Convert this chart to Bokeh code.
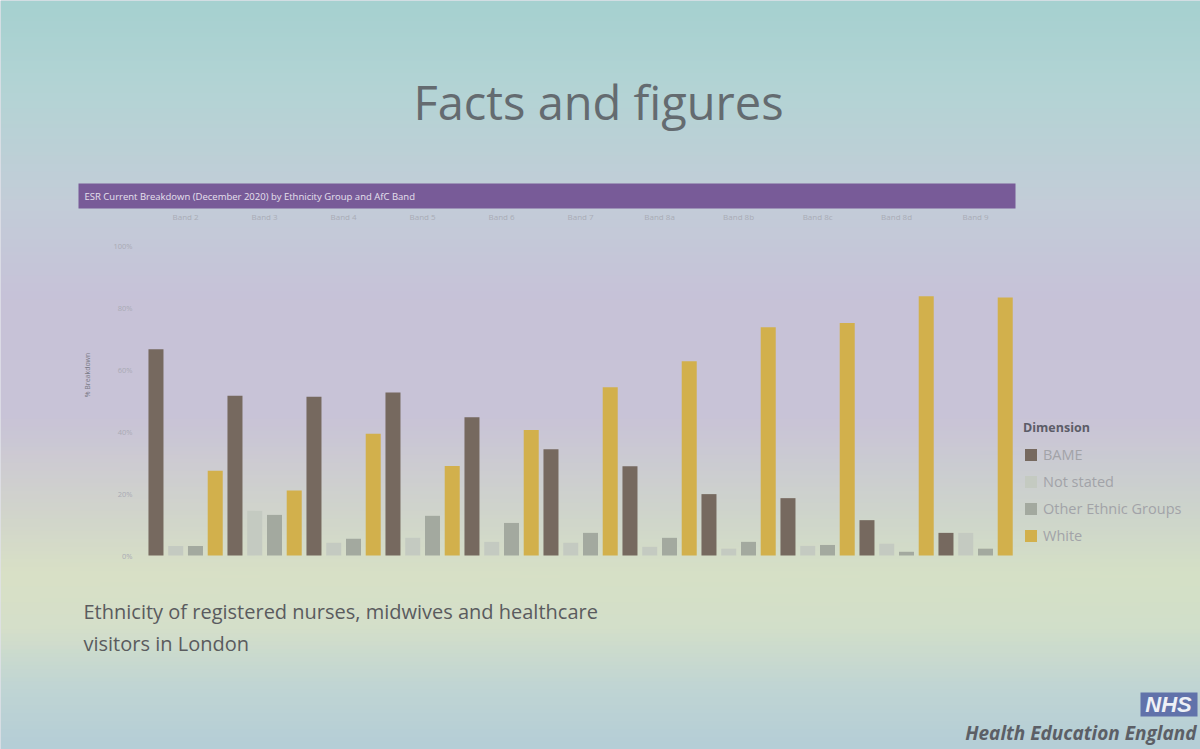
import numpy as np
from bokeh.plotting import figure
from bokeh.models import (Range1d, LinearAxis, FixedTicker, ColumnDataSource,
                          Legend, LegendItem)
from bokeh.core.properties import value
from bokeh.embed import file_html
from bokeh.resources import INLINE

# ---------------- data ----------------
bands = ["Band 2", "Band 3", "Band 4", "Band 5", "Band 6", "Band 7",
         "Band 8a", "Band 8b", "Band 8c", "Band 8d", "Band 9"]
series = ["BAME", "Not stated", "Other Ethnic Groups", "White"]
bame = [66.5, 51.5, 51.2, 52.6, 44.6, 34.3, 28.8, 19.8, 18.5, 11.4, 7.3]
not_stated = [3.1, 14.4, 4.1, 5.7, 4.4, 4.1, 2.8, 2.2, 3.1, 3.8, 7.3]
other = [3.1, 13.1, 5.4, 12.8, 10.5, 7.3, 5.7, 4.4, 3.4, 1.2, 2.2]
white = [27.3, 21.0, 39.3, 28.9, 40.5, 54.3, 62.7, 73.6, 75.0, 83.6, 83.2]
y_ticks = [0, 20, 40, 60, 80, 100]
y_tick_labels = ["0%", "20%", "40%", "60%", "80%", "100%"]
colors = ["#76695f", "#c4cac1", "#a3a99f", "#d2b04c"]

title = "Facts and figures"
header = "ESR Current Breakdown (December 2020) by Ethnicity Group and AfC Band"
caption = ["Ethnicity of registered nurses, midwives and healthcare",
           "visitors in London"]

W, H = 1200, 749


def Y(s):
    # screen-from-top -> data y
    return H - s


p = figure(width=W, height=H, x_range=Range1d(0, W), y_range=Range1d(0, H),
           output_backend="svg", toolbar_location=None, min_border=0)
p.xaxis.visible = False
p.yaxis.visible = False
p.grid.visible = False
p.outline_line_color = None
p.background_fill_color = "#c6c8d6"
p.border_fill_color = "#c6c8d6"

# ---------------- background gradient ----------------
stops_s = [0, 90, 200, 300, 420, 520, 575, 630, 690, 749]
stops_c = ["#a6d1d0", "#b4d4d5", "#c3cdd8", "#c7c2d8", "#c9c4d7",
           "#d0d6cb", "#d7e1c6", "#d3dfca", "#c0d5d4", "#b5ced7"]


def hex2rgb(h):
    return [int(h[i:i + 2], 16) for i in (1, 3, 5)]


gh, gw = 188, 60
rows = np.linspace(H, 0, gh)  # row 0 at bottom -> screen y = H
rgb = np.array([hex2rgb(c) for c in stops_c], dtype=float)
img = np.zeros((gh, gw), dtype=np.uint32)
view = img.view(dtype=np.uint8).reshape((gh, gw, 4))
xs_h = np.linspace(0, 1, gw)
for r, s in enumerate(rows):
    col = [np.interp(s, stops_s, rgb[:, k]) for k in range(3)]
    for k in range(3):
        tint = (0.5 - xs_h) * (4 if (k == 0 and 450 < s < 650) else 0)
        view[r, :, k] = np.clip(col[k] + tint, 0, 255)
    view[r, :, 3] = 255
p.image_rgba(image=[img], x=0, y=0, dw=W, dh=H)

# ---------------- slide texts ----------------
p.text(x=[598], y=[Y(101)], text=[title], text_align="center",
       text_baseline="middle", text_font=value("Open Sans"),
       text_font_size="47px", text_color="#646b70")

p.quad(left=[78], right=[1015], top=[Y(183)], bottom=[Y(208)],
       fill_color="#785b98", line_color=None)
p.text(x=[84], y=[Y(196)], text=[header], text_align="left",
       text_baseline="middle", text_font=value("Open Sans"),
       text_font_size="9.5px", text_color="#e6e0ee")

p.text(x=[83, 83], y=[Y(611), Y(643)], text=caption, text_align="left",
       text_baseline="middle", text_font=value("Open Sans"),
       text_font_size="20px", text_color="#5a5b5e")

p.quad(left=[1140], right=[1197], top=[Y(692)], bottom=[Y(716)],
       fill_color="#6172aa", line_color=None)
p.text(x=[1168], y=[Y(704)], text=["NHS"], text_align="center",
       text_baseline="middle", text_font=value("Liberation Sans"),
       text_font_style="bold italic", text_font_size="22px",
       text_color="#eef0f6")
p.text(x=[1196], y=[Y(732)], text=["Health Education England"],
       text_align="right", text_baseline="middle",
       text_font=value("Open Sans"), text_font_style="bold italic",
       text_font_size="19px", text_color="#5c5f66")

# ---------------- chart ----------------
px0, px_per = 555.0, 3.1          # screen y of 0 %, px per %
p.extra_y_ranges = {"pct": Range1d((px0 - H) / px_per, px0 / px_per)}
gx0, gstep = 145.6, 79.0           # screen x of band 0 left edge, px per band
p.extra_x_ranges = {"band": Range1d(-gx0 / gstep, (W - gx0) / gstep)}

renderers = []
for j, (name, vals) in enumerate(zip(series, [bame, not_stated, other, white])):
    src = ColumnDataSource(dict(x=[i + 0.125 + 0.25 * j for i in range(len(bands))],
                                top=vals))
    r = p.vbar(x="x", top="top", bottom=0, width=0.19, source=src,
               x_range_name="band", y_range_name="pct",
               fill_color=colors[j], line_color=None)
    renderers.append(r)

yax = LinearAxis(y_range_name="pct", fixed_location=144,
                 ticker=FixedTicker(ticks=y_ticks),
                 major_label_overrides={t: l for t, l in zip(y_ticks, y_tick_labels)},
                 axis_label="% Breakdown")
yax.axis_line_color = None
yax.major_tick_line_color = None
yax.minor_tick_line_color = None
yax.major_label_text_font = "Open Sans"
yax.major_label_text_font_size = "7.5px"
yax.major_label_text_color = "#a9aab4"
yax.major_label_standoff = 6
yax.axis_label_text_font = "Open Sans"
yax.axis_label_text_font_size = "7px"
yax.axis_label_text_font_style = "normal"
yax.axis_label_text_color = "#7a7a86"
yax.axis_label_standoff = 18
p.add_layout(yax, "left")

band_ticks = [i + 0.5 for i in range(len(bands))]
xax = LinearAxis(x_range_name="band", fixed_location=Y(229),
                 ticker=FixedTicker(ticks=band_ticks),
                 major_label_overrides={t: b for t, b in zip(band_ticks, bands)})
xax.axis_line_color = None
xax.major_tick_line_color = None
xax.minor_tick_line_color = None
xax.major_label_text_font = "Open Sans"
xax.major_label_text_font_size = "8px"
xax.major_label_text_color = "#a9abb6"
xax.major_label_standoff = 2
p.add_layout(xax, "above")

legend = Legend(items=[LegendItem(label=s, renderers=[r]) for s, r in zip(series, renderers)],
                location=(1023, Y(545)), title="Dimension",
                orientation="vertical")
legend.title_text_font = "Open Sans"
legend.title_text_font_size = "12.5px"
legend.title_text_font_style = "bold"
legend.title_text_color = "#5c5c68"
legend.title_standoff = 8
legend.label_text_font = "Open Sans"
legend.label_text_font_size = "14.5px"
legend.label_text_color = "#a2a3a8"
legend.glyph_width = 15
legend.glyph_height = 15
legend.label_height = 20
legend.spacing = 7
legend.padding = 4
legend.margin = 0
legend.background_fill_alpha = 0
legend.border_line_color = None
p.add_layout(legend)

open("out.html", "w").write(file_html(p, INLINE))
